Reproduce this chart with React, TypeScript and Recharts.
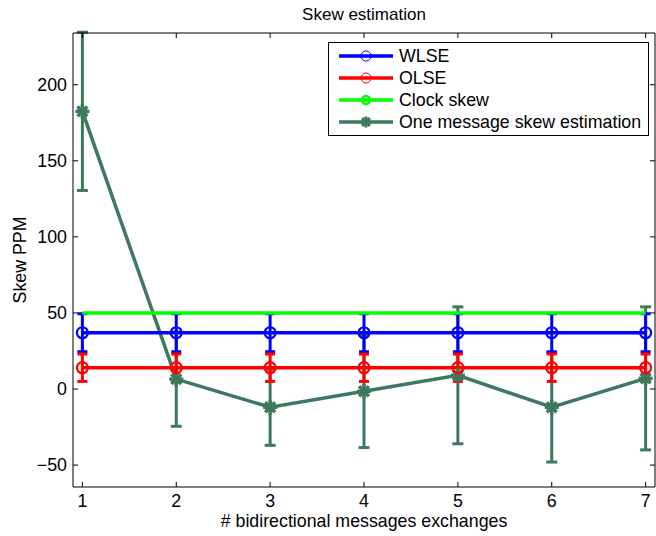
import { ComposedChart, Line, XAxis, YAxis, ErrorBar, Legend } from 'recharts';

const exchanges = [1, 2, 3, 4, 5, 6, 7];
const wlse = [37, 37, 37, 37, 37, 37, 37];
const wlseErr = [12.5, 12.5, 12.5, 12.5, 12.5, 12.5, 12.5];
const olse = [14, 14, 14, 14, 14, 14, 14];
const olseErr = [9, 9, 9, 9, 9, 9, 9];
const clockSkew = [50, 50, 50, 50, 50, 50, 50];
const oneMsg = [182.5, 6.5, -12, -1.5, 9, -12, 7];
const oneMsgErr = [52, 31, 25, 37, 45, 36, 47];

const xTicks = [1, 2, 3, 4, 5, 6, 7];
const yTicks = [-50, 0, 50, 100, 150, 200];
const legendNames = ['WLSE', 'OLSE', 'Clock skew', 'One message skew estimation'];

const FONT = '"Liberation Sans", Arial, Helvetica, sans-serif';
const DARK = '#3d7a5c';
const FS = 17.8;

const data = exchanges.map((x, i) => ({
  x,
  wlse: wlse[i],
  wlseErr: wlseErr[i],
  olse: olse[i],
  olseErr: olseErr[i],
  clock: clockSkew[i],
  one: oneMsg[i],
  oneErr: oneMsgErr[i],
}));

const fmt = (v: number) => String(v).replace('-', '\u2212');

const BottomTick = (props: any) => {
  const { x, y, payload } = props;
  return (
    <g>
      <line x1={x} y1={y} x2={x} y2={y - 5} stroke="#000" />
      <text x={x} y={y + 20} textAnchor="middle" fontSize={FS} fontFamily={FONT} fill="#000">
        {payload.value}
      </text>
    </g>
  );
};

const TopTick = (props: any) => {
  const { x, y } = props;
  return <line x1={x} y1={y} x2={x} y2={y + 5} stroke="#000" />;
};

const LeftTick = (props: any) => {
  const { x, y, payload } = props;
  return (
    <g>
      <line x1={x} y1={y} x2={x + 5} y2={y} stroke="#000" />
      <text x={x - 6} y={y + 6} textAnchor="end" fontSize={FS} fontFamily={FONT} fill="#000">
        {fmt(payload.value)}
      </text>
    </g>
  );
};

const RightTick = (props: any) => {
  const { x, y } = props;
  return <line x1={x} y1={y} x2={x - 5} y2={y} stroke="#000" />;
};

const Star = ({ cx, cy, r = 7, color = DARK, w = 3.5 }: any) => (
  <g>
    {[0, 45, 90, 135].map((a) => {
      const dx = r * Math.cos((a * Math.PI) / 180);
      const dy = r * Math.sin((a * Math.PI) / 180);
      return <line key={a} x1={cx - dx} y1={cy - dy} x2={cx + dx} y2={cy + dy} stroke={color} strokeWidth={w} />;
    })}
  </g>
);

const circleDot = (color: string) => (props: any) => {
  const { cx, cy, index } = props;
  return <circle key={`c-${index}`} cx={cx} cy={cy} r={5.5} fill="none" stroke={color} strokeWidth={2.2} />;
};

const starDot = (props: any) => {
  const { cx, cy, index } = props;
  return <Star key={`s-${index}`} cx={cx} cy={cy} />;
};

const legendColors = ['#0000ff', '#ff0000', '#00ff00', DARK];

const renderLegend = () => (
  <svg width={322} height={95} style={{ display: 'block' }}>
    <rect x={0.5} y={0.5} width={320} height={93} fill="#fff" stroke="#000" strokeWidth={1} />
    {legendNames.map((name, i) => {
      const cy = 14 + i * 22;
      const c = legendColors[i];
      return (
        <g key={name}>
          <line x1={11} y1={cy} x2={65} y2={cy} stroke={c} strokeWidth={3.5} />
          {i < 2 && <circle cx={38} cy={cy} r={5} fill="none" stroke={c} strokeWidth={1} />}
          {i === 2 && <circle cx={38} cy={cy} r={4} fill="none" stroke={c} strokeWidth={2.5} />}
          {i === 3 && <Star cx={38} cy={cy} r={5.5} w={3} />}
          <text x={71} y={cy + 6} fontSize={FS} fontFamily={FONT} fill="#000">
            {name}
          </text>
        </g>
      );
    })}
  </svg>
);

export default function App() {
  return (
    <div style={{ position: 'absolute', left: 0, top: 0 }}>
      <ComposedChart width={656} height={536} data={data} margin={{ top: 32, right: 0, bottom: 0, left: 0 }}>
        <XAxis
          dataKey="x"
          type="number"
          domain={[0.9, 7.1]}
          ticks={xTicks}
          allowDataOverflow
          height={49}
          tickSize={0}
          tickMargin={0}
          tickLine={false}
          axisLine={{ stroke: '#000' }}
          tick={BottomTick}
          interval={0}
          label={(p: any) => (
            <text
              x={p.viewBox.x + p.viewBox.width / 2}
              y={p.viewBox.y + 40}
              textAnchor="middle"
              fontSize={FS}
              fontFamily={FONT}
              fill="#000"
            >
              # bidirectional messages exchanges
            </text>
          )}
        />
        <XAxis
          xAxisId="top"
          dataKey="x"
          orientation="top"
          type="number"
          domain={[0.9, 7.1]}
          ticks={xTicks}
          allowDataOverflow
          height={1}
          tickSize={0}
          tickMargin={0}
          tickLine={false}
          axisLine={{ stroke: '#000' }}
          tick={TopTick}
          interval={0}
          label={(p: any) => (
            <text
              x={p.viewBox.x + p.viewBox.width / 2}
              y={20}
              textAnchor="middle"
              fontSize={17}
              fontFamily={FONT}
              fill="#000"
            >
              Skew estimation
            </text>
          )}
        />
        <YAxis
          type="number"
          domain={[-64.4, 234]}
          ticks={yTicks}
          allowDataOverflow
          width={73}
          tickSize={0}
          tickMargin={0}
          tickLine={false}
          axisLine={{ stroke: '#000' }}
          tick={LeftTick}
          interval={0}
          label={() => (
            <text
              x={26}
              y={260}
              transform="rotate(-90 26 260)"
              textAnchor="middle"
              fontSize={FS}
              fontFamily={FONT}
              fill="#000"
            >
              Skew PPM
            </text>
          )}
        />
        <YAxis
          yAxisId="right"
          orientation="right"
          type="number"
          domain={[-64.4, 234]}
          ticks={yTicks}
          allowDataOverflow
          width={1}
          tickSize={0}
          tickMargin={0}
          tickLine={false}
          axisLine={{ stroke: '#000' }}
          tick={RightTick}
          interval={0}
        />
        <Line
          dataKey="one"
          type="linear"
          stroke={DARK}
          strokeWidth={3.5}
          dot={starDot}
          activeDot={false}
          isAnimationActive={false}
        >
          <ErrorBar dataKey="oneErr" direction="y" width={5.5} stroke={DARK} strokeWidth={3} />
        </Line>
        <Line
          dataKey="wlse"
          type="linear"
          stroke="#0000ff"
          strokeWidth={3.5}
          dot={circleDot('#0000ff')}
          activeDot={false}
          isAnimationActive={false}
        >
          <ErrorBar dataKey="wlseErr" direction="y" width={5} stroke="#0000ff" strokeWidth={3} />
        </Line>
        <Line
          dataKey="olse"
          type="linear"
          stroke="#ff0000"
          strokeWidth={3.5}
          dot={circleDot('#ff0000')}
          activeDot={false}
          isAnimationActive={false}
        >
          <ErrorBar dataKey="olseErr" direction="y" width={5} stroke="#ff0000" strokeWidth={3} />
        </Line>
        <Line
          dataKey="clock"
          xAxisId="top"
          yAxisId="right"
          type="linear"
          stroke="#00ff00"
          strokeWidth={3.5}
          dot={false}
          activeDot={false}
          isAnimationActive={false}
        />
        <Legend
          layout="vertical"
          align="center"
          verticalAlign="middle"
          content={renderLegend}
          wrapperStyle={{ left: 328, top: 42, width: 322, height: 95 }}
        />
      </ComposedChart>
    </div>
  );
}
